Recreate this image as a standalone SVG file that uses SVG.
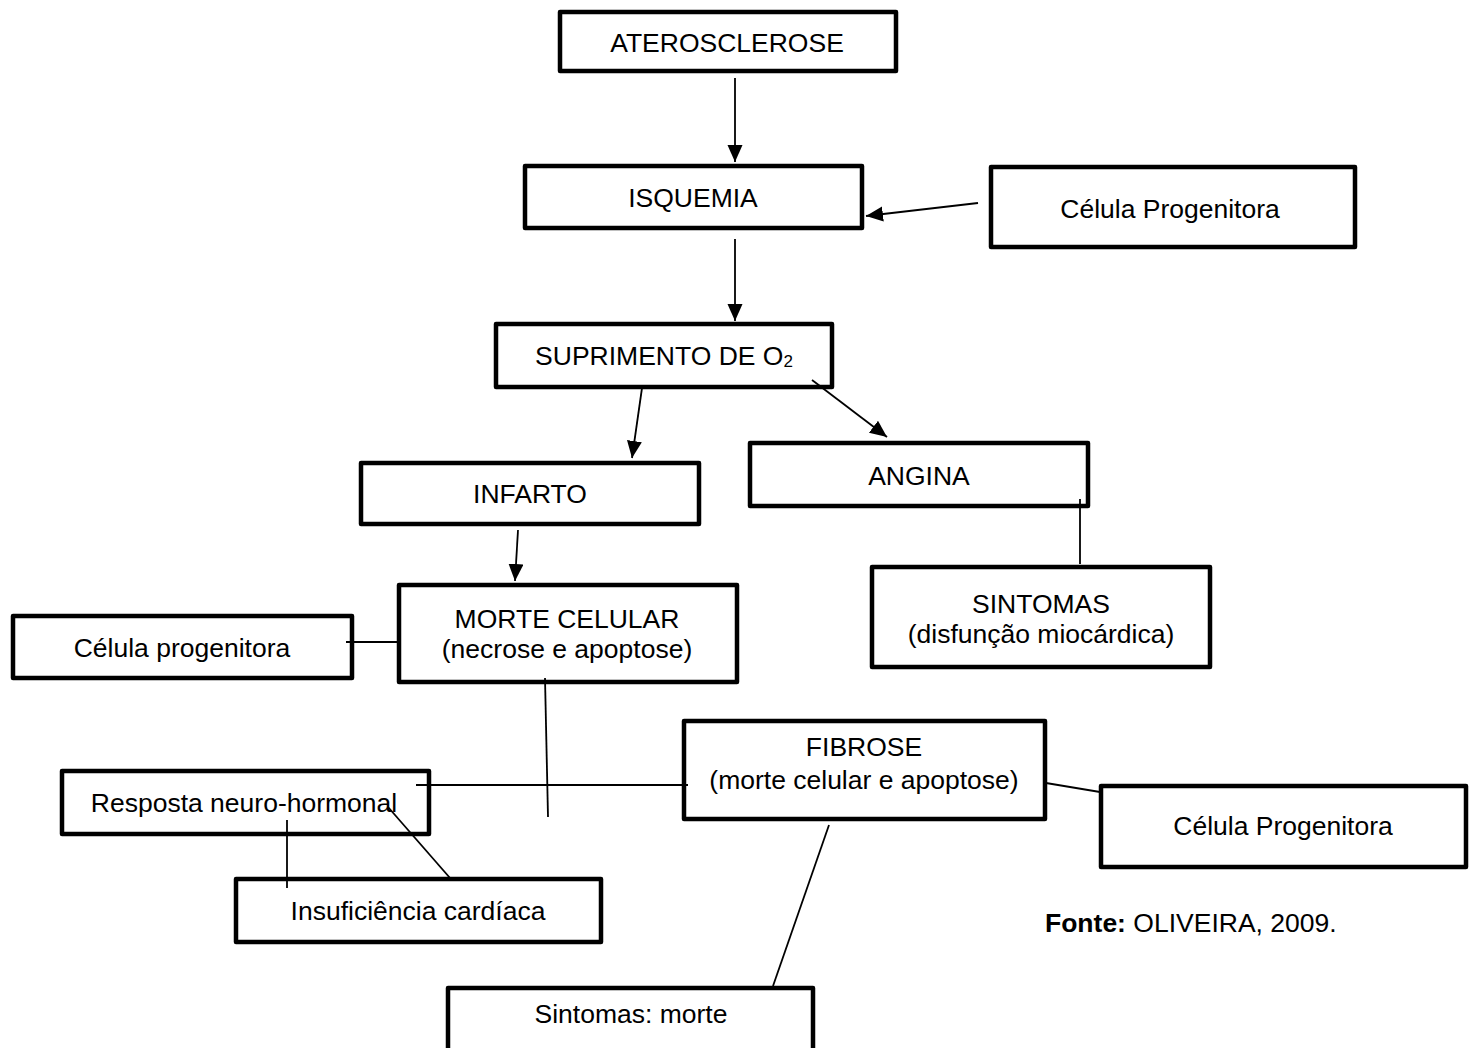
<svg xmlns="http://www.w3.org/2000/svg" width="1474" height="1048" viewBox="0 0 1474 1048">
<style>
.box{fill:#fff;stroke:#000;stroke-width:4.5;stroke-linejoin:round}
.t{font-family:"Liberation Sans",Arial,sans-serif;font-size:26.5px;fill:#000;text-anchor:middle}
.c{stroke:#000;stroke-width:1.8;fill:none}
</style>
<defs>
<marker id="ah" markerUnits="userSpaceOnUse" markerWidth="18" markerHeight="16" refX="17" refY="7.5" orient="auto">
<path d="M0,0 L17,7.5 L0,15 z" fill="#000"/>
</marker>
</defs>
<rect width="1474" height="1048" fill="#fff"/>
<g id="aterosclerose">
<rect class="box" x="560" y="12" width="336" height="59"/>
<text class="t" x="727" y="52">ATEROSCLEROSE</text>
</g>
<g id="isquemia">
<rect class="box" x="525" y="166" width="337" height="62"/>
<text class="t" x="693" y="207">ISQUEMIA</text>
</g>
<g id="celula-progenitora-top">
<rect class="box" x="991" y="167" width="364" height="80"/>
<text class="t" x="1170" y="218">Célula Progenitora</text>
</g>
<g id="suprimento">
<rect class="box" x="496" y="324" width="336" height="63"/>
<text class="t" x="664" y="365">SUPRIMENTO DE O<tspan font-size="17" dy="2">2</tspan></text>
</g>
<g id="infarto">
<rect class="box" x="361" y="463" width="338" height="61"/>
<text class="t" x="530" y="503">INFARTO</text>
</g>
<g id="angina">
<rect class="box" x="750" y="443" width="338" height="63"/>
<text class="t" x="919" y="485">ANGINA</text>
</g>
<g id="sintomas">
<rect class="box" x="872" y="567" width="338" height="100"/>
<text class="t" x="1041" y="613">SINTOMAS</text>
<text class="t" x="1041" y="643">(disfunção miocárdica)</text>
</g>
<g id="morte-celular">
<rect class="box" x="399" y="585" width="338" height="97"/>
<text class="t" x="567" y="628">MORTE CELULAR</text>
<text class="t" x="567" y="658">(necrose e apoptose)</text>
</g>
<g id="celula-progenitora-left">
<rect class="box" x="13" y="616" width="339" height="62"/>
<text class="t" x="182" y="657">Célula progenitora</text>
</g>
<g id="fibrose">
<rect class="box" x="684" y="721" width="361" height="98"/>
<text class="t" x="864" y="756">FIBROSE</text>
<text class="t" x="864" y="789">(morte celular e apoptose)</text>
</g>
<g id="resposta">
<rect class="box" x="62" y="771" width="367" height="63"/>
<text class="t" x="244" y="812">Resposta neuro-hormonal</text>
</g>
<g id="celula-progenitora-br">
<rect class="box" x="1101" y="786" width="365" height="81"/>
<text class="t" x="1283" y="835">Célula Progenitora</text>
</g>
<g id="insuficiencia">
<rect class="box" x="236" y="879" width="365" height="63"/>
<text class="t" x="418" y="920">Insuficiência cardíaca</text>
</g>
<g id="sintomas-morte">
<rect class="box" x="448" y="988" width="365" height="70"/>
<text class="t" x="631" y="1023">Sintomas: morte</text>
</g>
<g id="fonte">
<text class="t" x="1045" y="932" style="text-anchor:start"><tspan font-weight="bold">Fonte:</tspan> OLIVEIRA, 2009.</text>
</g>
<g id="connectors">
<line class="c" x1="735" y1="78" x2="735" y2="162" marker-end="url(#ah)"/>
<line class="c" x1="978" y1="203" x2="866" y2="216" marker-end="url(#ah)"/>
<line class="c" x1="735" y1="239" x2="735" y2="321" marker-end="url(#ah)"/>
<line class="c" x1="642" y1="388" x2="632" y2="458" marker-end="url(#ah)"/>
<line class="c" x1="812" y1="380" x2="887" y2="437" marker-end="url(#ah)"/>
<line class="c" x1="518" y1="530" x2="515" y2="581" marker-end="url(#ah)"/>
<line class="c" x1="1080" y1="499" x2="1080" y2="564"/>
<line class="c" x1="346" y1="642" x2="398" y2="642"/>
<line class="c" x1="545" y1="678" x2="548" y2="817"/>
<line class="c" x1="416" y1="785" x2="688" y2="785"/>
<line class="c" x1="1046" y1="783" x2="1100" y2="792"/>
<line class="c" x1="287" y1="820" x2="287" y2="888"/>
<line class="c" x1="388" y1="807" x2="450" y2="878"/>
<line class="c" x1="829" y1="825" x2="773" y2="986"/>
</g>
</svg>
